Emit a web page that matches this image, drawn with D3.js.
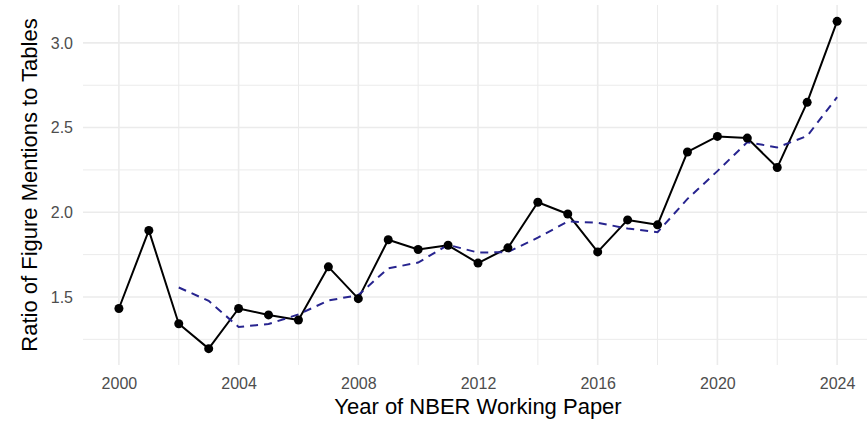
<!DOCTYPE html>
<html>
<head>
<meta charset="utf-8">
<script src="https://cdn.jsdelivr.net/npm/d3@7"></script>
<style>
  body { margin: 0; background: #fff; }
  text { font-family: "Liberation Sans", Arial, sans-serif; }
</style>
</head>
<body>
<div id="chart"></div>
<script>
// ratio of figure mentions to tables by NBER working paper year
var years = [2000, 2001, 2002, 2003, 2004, 2005, 2006, 2007, 2008, 2009, 2010, 2011, 2012,
             2013, 2014, 2015, 2016, 2017, 2018, 2019, 2020, 2021, 2022, 2023, 2024]
var ratio = [1.432, 1.893, 1.342, 1.195, 1.432, 1.394, 1.364, 1.678, 1.49, 1.838, 1.78, 1.805, 1.70,
             1.79, 2.059, 1.99, 1.766, 1.955, 1.926, 2.356, 2.448, 2.438, 2.264, 2.649, 3.127]
// dashed trend line (starts in 2002)
var trendYears = years.slice(2)
var trend = [1.556, 1.477, 1.323, 1.340, 1.397, 1.479, 1.511, 1.669, 1.703, 1.808, 1.762,
             1.765, 1.850, 1.946, 1.938, 1.904, 1.882, 2.079, 2.243, 2.414, 2.383, 2.450, 2.680]
var xTicks = [2000, 2004, 2008, 2012, 2016, 2020, 2024]
var yTicks = [1.5, 2.0, 2.5, 3.0]

var width = 867
var height = 422
var margin = ({ top: 5, right: -6, bottom: 57, left: 83 })

var svg = d3.select("#chart")
    .append("svg")
    .attr("width", width)
    .attr("height", height)

// ggplot style 5% expansion
var xPad = (2024 - 2000) * 0.05
var x = d3.scaleLinear()
    .domain([2000 - xPad, 2024 + xPad])
    .range([margin.left, width - margin.right])

var yMin = d3.min(ratio), yMax = d3.max(ratio)
var yPad = (yMax - yMin) * 0.05
var y = d3.scaleLinear()
    .domain([yMin - yPad, yMax + yPad])
    .range([height - margin.bottom, margin.top])

var grid = svg.append("g").attr("stroke", "#ebebeb").attr("fill", "none")

// minor grid lines
var xMinor = [2002, 2006, 2010, 2014, 2018, 2022]
var yMinor = [1.25, 1.75, 2.25, 2.75]
grid.selectAll(".xminor").data(xMinor).join("line")
    .attr("x1", d => x(d)).attr("x2", d => x(d))
    .attr("y1", y.range()[0]).attr("y2", y.range()[1])
    .attr("stroke-width", 1)
grid.selectAll(".yminor").data(yMinor).join("line")
    .attr("y1", d => y(d)).attr("y2", d => y(d))
    .attr("x1", x.range()[0]).attr("x2", x.range()[1])
    .attr("stroke-width", 1)

// major grid lines
grid.selectAll(".xmajor").data(xTicks).join("line")
    .attr("x1", d => x(d)).attr("x2", d => x(d))
    .attr("y1", y.range()[0]).attr("y2", y.range()[1])
    .attr("stroke-width", 1.6)
grid.selectAll(".ymajor").data(yTicks).join("line")
    .attr("y1", d => y(d)).attr("y2", d => y(d))
    .attr("x1", x.range()[0]).attr("x2", x.range()[1])
    .attr("stroke-width", 1.6)

var xAxis = g => g
    .attr("transform", `translate(0,${height - margin.bottom})`)
    .call(d3.axisBottom(x).tickValues(xTicks).tickFormat(d3.format("d")).tickSize(0).tickPadding(13))
    .call(g => g.select(".domain").remove())
    .call(g => g.selectAll("text").attr("fill", "#4d4d4d").attr("font-size", 16))

var yAxis = g => g
    .attr("transform", `translate(${margin.left},0)`)
    .call(d3.axisLeft(y).tickValues(yTicks).tickFormat(d3.format(".1f")).tickSize(0).tickPadding(10))
    .call(g => g.select(".domain").remove())
    .call(g => g.selectAll("text").attr("fill", "#4d4d4d").attr("font-size", 16))

svg.append("g").call(xAxis)
svg.append("g").call(yAxis)

// axis titles
svg.append("text")
    .attr("x", (x.range()[0] + x.range()[1]) / 2)
    .attr("y", 414)
    .attr("text-anchor", "middle")
    .attr("font-size", 22)
    .attr("fill", "#000")
    .text("Year of NBER Working Paper")

svg.append("text")
    .attr("transform", `translate(37,${(y.range()[0] + y.range()[1]) / 2}) rotate(-90)`)
    .attr("text-anchor", "middle")
    .attr("font-size", 22)
    .attr("fill", "#000")
    .text("Ratio of Figure Mentions to Tables")

var line = d3.line()
    .x(d => x(d[0]))
    .y(d => y(d[1]))

svg.append("path")
    .datum(years.map((yr, i) => [yr, ratio[i]]))
    .attr("fill", "none")
    .attr("stroke", "#000")
    .attr("stroke-width", 2)
    .attr("stroke-linejoin", "round")
    .attr("d", line)

svg.append("path")
    .datum(trendYears.map((yr, i) => [yr, trend[i]]))
    .attr("fill", "none")
    .attr("stroke", "#27248f")
    .attr("stroke-width", 2)
    .attr("stroke-dasharray", "8,6")
    .attr("d", line)

svg.append("g")
    .selectAll("circle")
    .data(years.map((yr, i) => [yr, ratio[i]]))
    .join("circle")
    .attr("cx", d => x(d[0]))
    .attr("cy", d => y(d[1]))
    .attr("r", 4.5)
    .attr("fill", "#000")
</script>
</body>
</html>
